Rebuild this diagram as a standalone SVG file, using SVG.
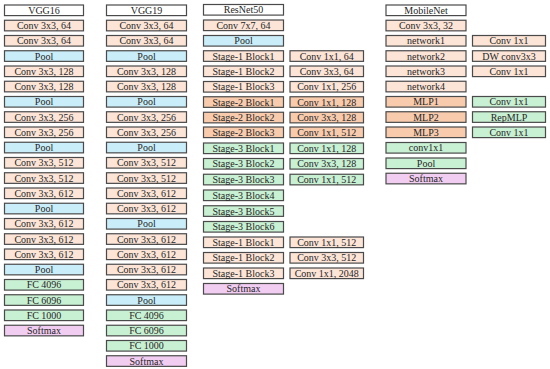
<svg xmlns="http://www.w3.org/2000/svg" width="550" height="369" viewBox="0 0 550 369">
<style>
rect{stroke:#4a4a4a;stroke-width:1.2}
text{font-family:"Liberation Serif","Times New Roman",serif;font-size:10px;fill:#262626;text-anchor:middle}
.h{fill:#ffffff}
.c{fill:#fce4d6}
.o{fill:#f8cbad}
.p{fill:#c9edf9}
.g{fill:#c8f0d2}
.s{fill:#f2cdf2}
</style>
<rect x="0" y="0" width="550" height="369" style="fill:#fff;stroke:none"/>
<g id="vgg16">
<g id="v16-0"><rect class="h" x="4.5" y="5" width="79" height="10.6"/><text x="44" y="13.8">VGG16</text></g>
<g id="v16-1"><rect class="c" x="4.5" y="20.25" width="79" height="10.6"/><text x="44" y="29.05">Conv 3x3, 64</text></g>
<g id="v16-2"><rect class="c" x="4.5" y="35.5" width="79" height="10.6"/><text x="44" y="44.3">Conv 3x3, 64</text></g>
<g id="v16-3"><rect class="p" x="4.5" y="50.75" width="79" height="10.6"/><text x="44" y="59.55">Pool</text></g>
<g id="v16-4"><rect class="c" x="4.5" y="66" width="79" height="10.6"/><text x="44" y="74.8">Conv 3x3, 128</text></g>
<g id="v16-5"><rect class="c" x="4.5" y="81.25" width="79" height="10.6"/><text x="44" y="90.05">Conv 3x3, 128</text></g>
<g id="v16-6"><rect class="p" x="4.5" y="96.5" width="79" height="10.6"/><text x="44" y="105.3">Pool</text></g>
<g id="v16-7"><rect class="c" x="4.5" y="111.75" width="79" height="10.6"/><text x="44" y="120.55">Conv 3x3, 256</text></g>
<g id="v16-8"><rect class="c" x="4.5" y="127" width="79" height="10.6"/><text x="44" y="135.8">Conv 3x3, 256</text></g>
<g id="v16-9"><rect class="p" x="4.5" y="142.25" width="79" height="10.6"/><text x="44" y="151.05">Pool</text></g>
<g id="v16-10"><rect class="c" x="4.5" y="157.5" width="79" height="10.6"/><text x="44" y="166.3">Conv 3x3, 512</text></g>
<g id="v16-11"><rect class="c" x="4.5" y="172.75" width="79" height="10.6"/><text x="44" y="181.55">Conv 3x3, 512</text></g>
<g id="v16-12"><rect class="c" x="4.5" y="188" width="79" height="10.6"/><text x="44" y="196.8">Conv 3x3, 612</text></g>
<g id="v16-13"><rect class="p" x="4.5" y="203.25" width="79" height="10.6"/><text x="44" y="212.05">Pool</text></g>
<g id="v16-14"><rect class="c" x="4.5" y="218.5" width="79" height="10.6"/><text x="44" y="227.3">Conv 3x3, 612</text></g>
<g id="v16-15"><rect class="c" x="4.5" y="233.75" width="79" height="10.6"/><text x="44" y="242.55">Conv 3x3, 612</text></g>
<g id="v16-16"><rect class="c" x="4.5" y="249" width="79" height="10.6"/><text x="44" y="257.8">Conv 3x3, 612</text></g>
<g id="v16-17"><rect class="p" x="4.5" y="264.25" width="79" height="10.6"/><text x="44" y="273.05">Pool</text></g>
<g id="v16-18"><rect class="g" x="4.5" y="279.5" width="79" height="10.6"/><text x="44" y="288.3">FC 4096</text></g>
<g id="v16-19"><rect class="g" x="4.5" y="294.75" width="79" height="10.6"/><text x="44" y="303.55">FC 6096</text></g>
<g id="v16-20"><rect class="g" x="4.5" y="310" width="79" height="10.6"/><text x="44" y="318.8">FC 1000</text></g>
<g id="v16-21"><rect class="s" x="4.5" y="325.25" width="79" height="10.6"/><text x="44" y="334.05">Softmax</text></g>
</g>
<g id="vgg19">
<g id="v19-0"><rect class="h" x="106.5" y="5" width="80" height="10.6"/><text x="146.5" y="13.8">VGG19</text></g>
<g id="v19-1"><rect class="c" x="106.5" y="20.25" width="80" height="10.6"/><text x="146.5" y="29.05">Conv 3x3, 64</text></g>
<g id="v19-2"><rect class="c" x="106.5" y="35.5" width="80" height="10.6"/><text x="146.5" y="44.3">Conv 3x3, 64</text></g>
<g id="v19-3"><rect class="p" x="106.5" y="50.75" width="80" height="10.6"/><text x="146.5" y="59.55">Pool</text></g>
<g id="v19-4"><rect class="c" x="106.5" y="66" width="80" height="10.6"/><text x="146.5" y="74.8">Conv 3x3, 128</text></g>
<g id="v19-5"><rect class="c" x="106.5" y="81.25" width="80" height="10.6"/><text x="146.5" y="90.05">Conv 3x3, 128</text></g>
<g id="v19-6"><rect class="p" x="106.5" y="96.5" width="80" height="10.6"/><text x="146.5" y="105.3">Pool</text></g>
<g id="v19-7"><rect class="c" x="106.5" y="111.75" width="80" height="10.6"/><text x="146.5" y="120.55">Conv 3x3, 256</text></g>
<g id="v19-8"><rect class="c" x="106.5" y="127" width="80" height="10.6"/><text x="146.5" y="135.8">Conv 3x3, 256</text></g>
<g id="v19-9"><rect class="p" x="106.5" y="142.25" width="80" height="10.6"/><text x="146.5" y="151.05">Pool</text></g>
<g id="v19-10"><rect class="c" x="106.5" y="157.5" width="80" height="10.6"/><text x="146.5" y="166.3">Conv 3x3, 512</text></g>
<g id="v19-11"><rect class="c" x="106.5" y="172.75" width="80" height="10.6"/><text x="146.5" y="181.55">Conv 3x3, 512</text></g>
<g id="v19-12"><rect class="c" x="106.5" y="188" width="80" height="10.6"/><text x="146.5" y="196.8">Conv 3x3, 612</text></g>
<g id="v19-13"><rect class="c" x="106.5" y="203.25" width="80" height="10.6"/><text x="146.5" y="212.05">Conv 3x3, 612</text></g>
<g id="v19-14"><rect class="p" x="106.5" y="218.5" width="80" height="10.6"/><text x="146.5" y="227.3">Pool</text></g>
<g id="v19-15"><rect class="c" x="106.5" y="233.75" width="80" height="10.6"/><text x="146.5" y="242.55">Conv 3x3, 612</text></g>
<g id="v19-16"><rect class="c" x="106.5" y="249" width="80" height="10.6"/><text x="146.5" y="257.8">Conv 3x3, 612</text></g>
<g id="v19-17"><rect class="c" x="106.5" y="264.25" width="80" height="10.6"/><text x="146.5" y="273.05">Conv 3x3, 612</text></g>
<g id="v19-18"><rect class="c" x="106.5" y="279.5" width="80" height="10.6"/><text x="146.5" y="288.3">Conv 3x3, 612</text></g>
<g id="v19-19"><rect class="p" x="106.5" y="294.75" width="80" height="10.6"/><text x="146.5" y="303.55">Pool</text></g>
<g id="v19-20"><rect class="g" x="106.5" y="310" width="80" height="10.6"/><text x="146.5" y="318.8">FC 4096</text></g>
<g id="v19-21"><rect class="g" x="106.5" y="325.25" width="80" height="10.6"/><text x="146.5" y="334.05">FC 6096</text></g>
<g id="v19-22"><rect class="g" x="106.5" y="340.5" width="80" height="10.6"/><text x="146.5" y="349.3">FC 1000</text></g>
<g id="v19-23"><rect class="s" x="106.5" y="355.75" width="80" height="10.6"/><text x="146.5" y="364.55">Softmax</text></g>
</g>
<g id="resnet50">
<g id="r-0"><rect class="h" x="203.5" y="4.5" width="80" height="10.6"/><text x="243.5" y="13.3">ResNet50</text></g>
<g id="r-1"><rect class="c" x="203.5" y="20" width="80" height="10.6"/><text x="243.5" y="28.8">Conv 7x7, 64</text></g>
<g id="r-2"><rect class="p" x="203.5" y="35.5" width="80" height="10.6"/><text x="243.5" y="44.3">Pool</text></g>
<g id="r-3"><rect class="c" x="203.5" y="50.75" width="80" height="10.6"/><text x="243.5" y="59.55">Stage-1 Block1</text></g>
<g id="r-4"><rect class="c" x="203.5" y="66" width="80" height="10.6"/><text x="243.5" y="74.8">Stage-1 Block2</text></g>
<g id="r-5"><rect class="c" x="203.5" y="81.5" width="80" height="10.6"/><text x="243.5" y="90.3">Stage-1 Block3</text></g>
<g id="r-6"><rect class="o" x="203.5" y="96.75" width="80" height="10.6"/><text x="243.5" y="105.55">Stage-2 Block1</text></g>
<g id="r-7"><rect class="o" x="203.5" y="112.25" width="80" height="10.6"/><text x="243.5" y="121.05">Stage-2 Block2</text></g>
<g id="r-8"><rect class="o" x="203.5" y="127" width="80" height="10.6"/><text x="243.5" y="135.8">Stage-2 Block3</text></g>
<g id="r-9"><rect class="g" x="203.5" y="143" width="80" height="10.6"/><text x="243.5" y="151.8">Stage-3 Block1</text></g>
<g id="r-10"><rect class="g" x="203.5" y="158.5" width="80" height="10.6"/><text x="243.5" y="167.3">Stage-3 Block2</text></g>
<g id="r-11"><rect class="g" x="203.5" y="174.25" width="80" height="10.6"/><text x="243.5" y="183.05">Stage-3 Block3</text></g>
<g id="r-12"><rect class="g" x="203.5" y="190" width="80" height="10.6"/><text x="243.5" y="198.8">Stage-3 Block4</text></g>
<g id="r-13"><rect class="g" x="203.5" y="205.75" width="80" height="10.6"/><text x="243.5" y="214.55">Stage-3 Block5</text></g>
<g id="r-14"><rect class="g" x="203.5" y="221.5" width="80" height="10.6"/><text x="243.5" y="230.3">Stage-3 Block6</text></g>
<g id="r-15"><rect class="c" x="203.5" y="237" width="80" height="10.6"/><text x="243.5" y="245.8">Stage-1 Block1</text></g>
<g id="r-16"><rect class="c" x="203.5" y="252.5" width="80" height="10.6"/><text x="243.5" y="261.3">Stage-1 Block2</text></g>
<g id="r-17"><rect class="c" x="203.5" y="268" width="80" height="10.6"/><text x="243.5" y="276.8">Stage-1 Block3</text></g>
<g id="r-18"><rect class="s" x="203.5" y="283.5" width="80" height="10.6"/><text x="243.5" y="292.3">Softmax</text></g>
<g id="rb-3"><rect class="c" x="290" y="50.75" width="73.5" height="10.6"/><text x="326.75" y="59.55">Conv 1x1, 64</text></g>
<g id="rb-4"><rect class="c" x="290" y="66" width="73.5" height="10.6"/><text x="326.75" y="74.8">Conv 3x3, 64</text></g>
<g id="rb-5"><rect class="c" x="290" y="81.5" width="73.5" height="10.6"/><text x="326.75" y="90.3">Conv 1x1, 256</text></g>
<g id="rb-6"><rect class="o" x="290" y="96.75" width="73.5" height="10.6"/><text x="326.75" y="105.55">Conv 1x1, 128</text></g>
<g id="rb-7"><rect class="o" x="290" y="112.25" width="73.5" height="10.6"/><text x="326.75" y="121.05">Conv 3x3, 128</text></g>
<g id="rb-8"><rect class="o" x="290" y="127" width="73.5" height="10.6"/><text x="326.75" y="135.8">Conv 1x1, 512</text></g>
<g id="rb-9"><rect class="g" x="290" y="143" width="73.5" height="10.6"/><text x="326.75" y="151.8">Conv 1x1, 128</text></g>
<g id="rb-10"><rect class="g" x="290" y="158.5" width="73.5" height="10.6"/><text x="326.75" y="167.3">Conv 3x3, 128</text></g>
<g id="rb-11"><rect class="g" x="290" y="174.25" width="73.5" height="10.6"/><text x="326.75" y="183.05">Conv 1x1, 512</text></g>
<g id="rb-15"><rect class="c" x="290" y="237" width="73.5" height="10.6"/><text x="326.75" y="245.8">Conv 1x1, 512</text></g>
<g id="rb-16"><rect class="c" x="290" y="252.5" width="73.5" height="10.6"/><text x="326.75" y="261.3">Conv 3x3, 512</text></g>
<g id="rb-17"><rect class="c" x="290" y="268" width="73.5" height="10.6"/><text x="326.75" y="276.8">Conv 1x1, 2048</text></g>
</g>
<g id="mobilenet">
<g id="m-0"><rect class="h" x="386" y="5" width="80" height="10.6"/><text x="426" y="13.8">MobileNet</text></g>
<g id="m-1"><rect class="c" x="386" y="20.25" width="80" height="10.6"/><text x="426" y="29.05">Conv 3x3, 32</text></g>
<g id="m-2"><rect class="c" x="386" y="35.5" width="80" height="10.6"/><text x="426" y="44.3">network1</text></g>
<g id="m-3"><rect class="c" x="386" y="50.75" width="80" height="10.6"/><text x="426" y="59.55">network2</text></g>
<g id="m-4"><rect class="c" x="386" y="66" width="80" height="10.6"/><text x="426" y="74.8">network3</text></g>
<g id="m-5"><rect class="c" x="386" y="81.25" width="80" height="10.6"/><text x="426" y="90.05">network4</text></g>
<g id="m-6"><rect class="o" x="386" y="96.5" width="80" height="10.6"/><text x="426" y="105.3">MLP1</text></g>
<g id="m-7"><rect class="o" x="386" y="111.75" width="80" height="10.6"/><text x="426" y="120.55">MLP2</text></g>
<g id="m-8"><rect class="o" x="386" y="127" width="80" height="10.6"/><text x="426" y="135.8">MLP3</text></g>
<g id="m-9"><rect class="g" x="386" y="142.5" width="80" height="10.6"/><text x="426" y="151.3">conv1x1</text></g>
<g id="m-10"><rect class="g" x="386" y="158" width="80" height="10.6"/><text x="426" y="166.8">Pool</text></g>
<g id="m-11"><rect class="s" x="386" y="173.25" width="80" height="10.6"/><text x="426" y="182.05">Softmax</text></g>
<g id="mb-2"><rect class="c" x="472.5" y="35.5" width="73" height="10.6"/><text x="509" y="44.3">Conv 1x1</text></g>
<g id="mb-3"><rect class="c" x="472.5" y="50.75" width="73" height="10.6"/><text x="509" y="59.55">DW conv3x3</text></g>
<g id="mb-4"><rect class="c" x="472.5" y="66" width="73" height="10.6"/><text x="509" y="74.8">Conv 1x1</text></g>
<g id="mb-6"><rect class="g" x="472.5" y="96.5" width="73" height="10.6"/><text x="509" y="105.3">Conv 1x1</text></g>
<g id="mb-7"><rect class="g" x="472.5" y="111.75" width="73" height="10.6"/><text x="509" y="120.55">RepMLP</text></g>
<g id="mb-8"><rect class="g" x="472.5" y="127" width="73" height="10.6"/><text x="509" y="135.8">Conv 1x1</text></g>
</g>
</svg>
